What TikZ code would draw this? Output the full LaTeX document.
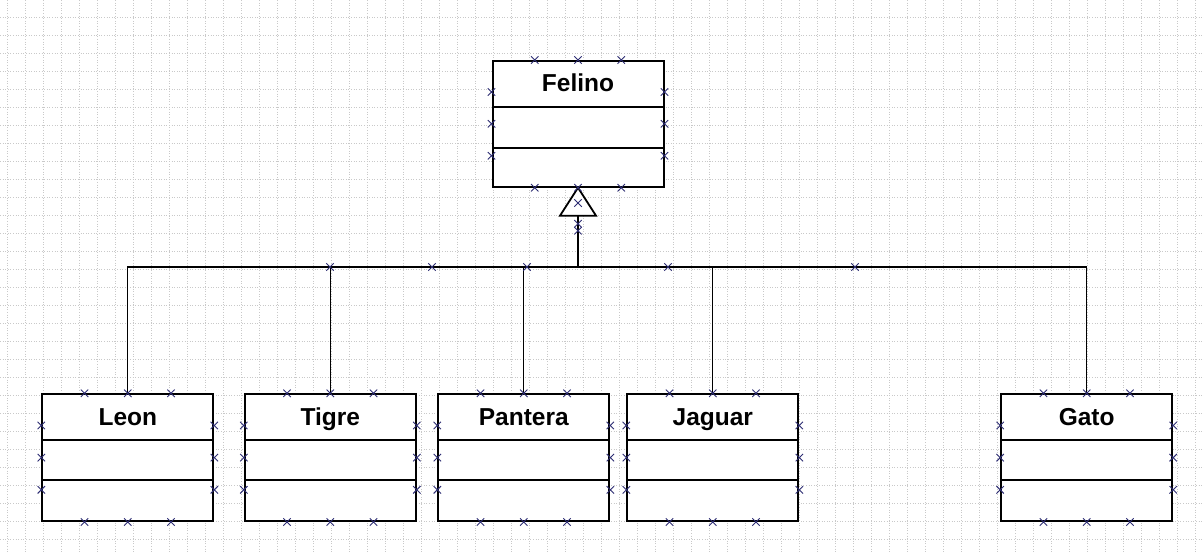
\documentclass[tikz,border=0pt]{standalone}
\usepackage{fontspec}
\newfontfamily\umlfont{Liberation Sans}
\usetikzlibrary{shapes.multipart,shapes.misc,calc}
\definecolor{portblue}{RGB}{45,45,115}

\begin{document}
\begin{tikzpicture}[x=1pt,y=-1pt,
  gridline/.style={gray!42,line width=0.6pt,dash pattern=on 1pt off 1.6pt},
  clase/.style={draw,fill=white,line width=2pt,rectangle split,rectangle split parts=3,
    inner sep=0pt,text width=171pt,align=center,anchor=north,
    font=\umlfont\bfseries\fontsize{24.5}{24.5}\selectfont},
  port/.style={cross out,draw=portblue,line width=0.9pt,minimum size=6.5pt,inner sep=0pt},
  link/.style={line width=1.3pt}]
\useasboundingbox[fill=white] (0,0) rectangle (1204,553);
\foreach \x in {7,25,...,1204} \draw[gridline] (\x,0) -- (\x,553);
\foreach \y in {17,35,...,553} \draw[gridline] (0,\y) -- (1204,\y);

\node[clase] at (578,60)	(felino) {\rule[-14pt]{0pt}{44pt}Felino\nodepart{two}\rule{0pt}{38.7pt}\nodepart{three}\rule{0pt}{37pt}};
\node[clase] at (127.8,393.3)	(leon) {\rule[-14pt]{0pt}{44pt}Leon\nodepart{two}\rule{0pt}{38pt}\nodepart{three}\rule{0pt}{38.7pt}};
\node[clase] at (330.3,393.3)	(tigre) {\rule[-14pt]{0pt}{44pt}Tigre\nodepart{two}\rule{0pt}{38pt}\nodepart{three}\rule{0pt}{38.7pt}};
\node[clase] at (523.8,393.3)	(pantera) {\rule[-14pt]{0pt}{44pt}Pantera\nodepart{two}\rule{0pt}{38pt}\nodepart{three}\rule{0pt}{38.7pt}};
\node[clase] at (712.8,393.3)	(jaguar) {\rule[-14pt]{0pt}{44pt}Jaguar\nodepart{two}\rule{0pt}{38pt}\nodepart{three}\rule{0pt}{38.7pt}};
\node[clase] at (1086.7,393.3)	(gato) {\rule[-14pt]{0pt}{44pt}Gato\nodepart{two}\rule{0pt}{38pt}\nodepart{three}\rule{0pt}{38.7pt}};

% generalizacion
\draw[line width=1.8pt,fill=white] (felino.south) -- ++(-18,28) -- ++(18,0) coordinate (gen) -- ++(18,0) -- cycle;
\coordinate (bus) at (578,267);
\draw[link] (gen) -- (bus);
\foreach \c in {leon,tigre,pantera,jaguar,gato}
  \draw[link] (bus) -| (\c.north);

% puntos de conexion
\foreach \b in {felino,leon,tigre,pantera,jaguar,gato}
  \foreach \f in {0.25,0.5,0.75} {
    \node[port] at ($(\b.north west)!\f!(\b.north east)$) {};
    \node[port] at ($(\b.south west)!\f!(\b.south east)$) {};
    \node[port] at ($(\b.north west)!\f!(\b.south west)$) {};
    \node[port] at ($(\b.north east)!\f!(\b.south east)$) {};
  }
\node[port] at ($(felino.south)!0.55!(gen)$) {};
\node[port] at ($(gen)+(0,8)$) {};
\node[port] at ($(gen)+(0,15)$) {};
\foreach \x in {330,432,527,668,855} \node[port] at (\x,267) {};
\end{tikzpicture}
\end{document}
